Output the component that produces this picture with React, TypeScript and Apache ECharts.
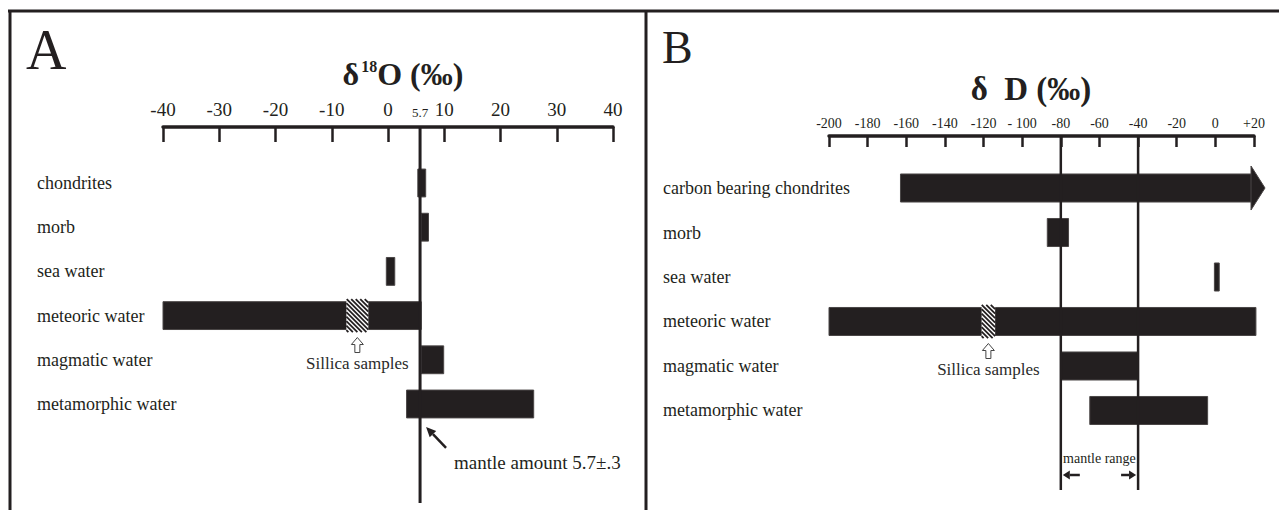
import React, { useEffect, useRef } from 'react';
import * as echarts from 'echarts';

// ---------- data ----------
const o18Categories = ['chondrites', 'morb', 'sea water', 'meteoric water', 'magmatic water', 'metamorphic water'];
const o18Low = [5.3, 5.9, -0.3, -40, 5.9, 3.3];
const o18High = [6.7, 7.2, 1.2, 5.9, 9.9, 25.9];
const o18TickValues = [-40, -30, -20, -10, 0, 10, 20, 30, 40];
const o18LabelValues = [-40, -30, -20, -10, 0, 5.7, 10, 20, 30, 40];
const o18Mantle = 5.7;
const o18MantleSpread = '.3';
const o18SilicaRow = 3;
const o18Silica = [-7.4, -3.5];

const dDCategories = ['carbon bearing chondrites', 'morb', 'sea water', 'meteoric water', 'magmatic water', 'metamorphic water'];
const dDLow = [-163, -87, -0.5, -200, -80, -65];
const dDHigh = [20, -76, 2, 21, -40, -4];
const dDOpenEnded = [true, false, false, false, false, false];
const dDTickValues = [-200, -180, -160, -140, -120, -100, -80, -60, -40, -20, 0, 20];
const dDTickLabels = ['-200', '-180', '-160', '-140', '-120', '- 100', '-80', '-60', '-40', '-20', '0', '+20'];
const dDMantleRange = [-80, -40];
const dDSilicaRow = 3;
const dDSilica = [-121, -114];

// ---------- style ----------
const SERIF = '"Liberation Serif", "Times New Roman", serif';
const INK = '#231f20';
const BAR_ROWS = 0.63;
const SILICA_ROWS = 0.5;

function rangeBars(xAxisIndex: number, yAxisIndex: number, lows: number[], highs: number[], open?: boolean[]) {
  return {
    type: 'custom',
    xAxisIndex,
    yAxisIndex,
    clip: false,
    silent: true,
    z: 2,
    encode: { x: [0, 1], y: 2 },
    data: lows.map((lo, i) => [lo, highs[i], i, open && open[i] ? 1 : 0]),
    renderItem: (params: any, api: any) => {
      const row = api.value(2);
      const a = api.coord([api.value(0), row]);
      const b = api.coord([api.value(1), row]);
      const h = api.size([0, BAR_ROWS])[1];
      const style = { fill: INK, stroke: '#4a4646', lineWidth: 1 };
      const rect = {
        type: 'rect',
        shape: { x: a[0], y: a[1] - h / 2, width: Math.max(b[0] - a[0], 2), height: h },
        style,
      };
      if (!api.value(3)) return rect;
      return {
        type: 'group',
        children: [
          rect,
          {
            type: 'polygon',
            shape: { points: [[b[0] - 3, a[1] - h / 2 - 8], [b[0] + 11, a[1]], [b[0] - 3, a[1] + h / 2 + 8]] },
            style,
          },
        ],
      };
    },
  };
}

function silicaSeries(xAxisIndex: number, yAxisIndex: number, range: number[], row: number) {
  return {
    type: 'custom',
    xAxisIndex,
    yAxisIndex,
    clip: false,
    silent: true,
    z: 3,
    encode: { x: [0, 1], y: 2 },
    data: [[range[0], range[1], row]],
    renderItem: (params: any, api: any) => {
      const r = api.value(2);
      const a = api.coord([api.value(0), r]);
      const b = api.coord([api.value(1), r]);
      const h = api.size([0, SILICA_ROWS * 1.5])[1];
      const bh = api.size([0, BAR_ROWS])[1];
      const x0 = a[0], x1 = b[0], y0 = a[1] - h / 2, y1 = a[1] + h / 2;
      const children: any[] = [
        { type: 'rect', shape: { x: x0, y: y0, width: x1 - x0, height: h }, style: { fill: '#ffffff' } },
      ];
      for (let c = x0 - y1 + 2; c < x1 - y0; c += 4.5) {
        const sx = Math.max(x0, y0 + c);
        const ex = Math.min(x1, y1 + c);
        if (ex > sx) {
          children.push({
            type: 'line',
            shape: { x1: sx, y1: sx - c, x2: ex, y2: ex - c },
            style: { stroke: INK, lineWidth: 1.8 },
          });
        }
      }
      const cx = (x0 + x1) / 2;
      const by = a[1] + bh / 2;
      children.push({
        type: 'polygon',
        shape: {
          points: [
            [cx, by + 8], [cx + 6, by + 15], [cx + 2.5, by + 15], [cx + 2.5, by + 23],
            [cx - 2.5, by + 23], [cx - 2.5, by + 15], [cx - 6, by + 15],
          ],
        },
        style: { fill: '#ffffff', stroke: '#444', lineWidth: 1 },
      });
      children.push({
        type: 'text',
        style: {
          text: 'Sillica samples', x: cx, y: by + 34, align: 'center', verticalAlign: 'middle',
          fontSize: 17, fontFamily: SERIF, fill: '#2a2a2a',
        },
      });
      return { type: 'group', children };
    },
  };
}

function arrowHead(tip: number[], tail: number[], len: number, half: number) {
  const dx = tip[0] - tail[0], dy = tip[1] - tail[1];
  const L = Math.hypot(dx, dy);
  const ux = dx / L, uy = dy / L;
  const bx = tip[0] - ux * len, by = tip[1] - uy * len;
  const px = -uy, py = ux;
  return {
    base: [bx, by],
    poly: {
      type: 'polygon',
      shape: { points: [tip, [bx + px * half, by + py * half], [bx - px * half, by - py * half]] },
      style: { fill: INK },
    },
  };
}

const o18MantleSeries = {
  type: 'custom',
  xAxisIndex: 0,
  yAxisIndex: 0,
  clip: false,
  silent: true,
  z: 4,
  encode: { x: 0 },
  data: [[o18Mantle]],
  renderItem: (params: any, api: any) => {
    const cs = params.coordSys;
    const x = api.coord([api.value(0), 0])[0];
    const yb = api.coord([0, o18Categories.length - 1])[1] + api.size([0, BAR_ROWS])[1] / 2;
    const tip = [x + 6, yb + 9];
    const tail = [x + 26, yb + 30];
    const head = arrowHead(tip, tail, 10, 4.5);
    return {
      type: 'group',
      children: [
        { type: 'line', shape: { x1: x, y1: cs.y, x2: x, y2: cs.y + cs.height }, style: { stroke: INK, lineWidth: 3 } },
        { type: 'line', shape: { x1: tail[0], y1: tail[1], x2: head.base[0], y2: head.base[1] }, style: { stroke: INK, lineWidth: 2.5 } },
        head.poly,
        {
          type: 'text',
          style: {
            text: `mantle amount ${o18Mantle}±${o18MantleSpread}`, x: x + 34, y: yb + 45,
            align: 'left', verticalAlign: 'middle', fontSize: 19, fontFamily: SERIF, fill: INK,
          },
        },
      ],
    };
  },
};

const dDMantleSeries = {
  type: 'custom',
  xAxisIndex: 1,
  yAxisIndex: 1,
  clip: false,
  silent: true,
  z: 4,
  encode: { x: [0, 1] },
  data: [[dDMantleRange[0], dDMantleRange[1]]],
  renderItem: (params: any, api: any) => {
    const cs = params.coordSys;
    const xl = api.coord([api.value(0), 0])[0];
    const xr = api.coord([api.value(1), 0])[0];
    const bottom = cs.y + cs.height;
    const ay = bottom - 15;
    const hl = arrowHead([xl + 2, ay], [xl + 19, ay], 7, 4.5);
    const hr = arrowHead([xr - 2, ay], [xr - 17, ay], 7, 4.5);
    return {
      type: 'group',
      children: [
        { type: 'line', shape: { x1: xl, y1: cs.y, x2: xl, y2: bottom }, style: { stroke: INK, lineWidth: 2.5 } },
        { type: 'line', shape: { x1: xr, y1: cs.y, x2: xr, y2: bottom }, style: { stroke: INK, lineWidth: 2.5 } },
        { type: 'line', shape: { x1: xl + 19, y1: ay, x2: hl.base[0], y2: ay }, style: { stroke: INK, lineWidth: 2.5 } },
        hl.poly,
        { type: 'line', shape: { x1: xr - 17, y1: ay, x2: hr.base[0], y2: ay }, style: { stroke: INK, lineWidth: 2.5 } },
        hr.poly,
        {
          type: 'text',
          style: {
            text: 'mantle range', x: (xl + xr) / 2, y: bottom - 32, align: 'center', verticalAlign: 'middle',
            fontSize: 14, fontFamily: SERIF, fill: INK,
          },
        },
      ],
    };
  },
};

export default function App() {
  const ref = useRef<HTMLDivElement>(null);
  useEffect(() => {
    if (!ref.current) return;
    const chart = echarts.init(ref.current, null, { renderer: 'svg' });
    const catLabel = (names: string[], margin: number) => ({
      customValues: names.map((_, i) => i),
      formatter: (v: number) => names[Math.round(v)] ?? '',
      align: 'left',
      margin,
      fontSize: 18,
      fontFamily: SERIF,
      color: INK,
    });
    const option: any = {
      animation: false,
      backgroundColor: '#ffffff',
      textStyle: { fontFamily: SERIF },
      grid: [
        { left: 163, top: 127, width: 450, height: 376, outerBoundsMode: 'none' },
        { left: 829, top: 136, width: 425, height: 354, outerBoundsMode: 'none' },
      ],
      xAxis: [
        {
          gridIndex: 0, type: 'value', position: 'top', min: -40, max: 40, interval: 10,
          axisLine: { show: true, onZero: false, lineStyle: { color: INK, width: 3.5 } },
          axisTick: { show: true, inside: true, length: 15, customValues: o18TickValues, lineStyle: { color: INK, width: 2.5 } },
          axisLabel: {
            customValues: o18LabelValues, margin: 8, color: INK, fontFamily: SERIF, fontSize: 19,
            formatter: (v: number) => (v === o18Mantle ? `{s|${v}}` : String(v)),
            rich: { s: { fontSize: 13, fontFamily: SERIF, color: INK } },
          },
          splitLine: { show: false },
        },
        {
          gridIndex: 1, type: 'value', position: 'top', min: -200, max: 20, interval: 20,
          axisLine: { show: true, onZero: false, lineStyle: { color: INK, width: 3.5 } },
          axisTick: { show: true, inside: true, length: 11, customValues: dDTickValues, lineStyle: { color: INK, width: 2.5 } },
          axisLabel: {
            customValues: dDTickValues, margin: 6, color: INK, fontFamily: SERIF, fontSize: 14,
            formatter: (v: number) => dDTickLabels[dDTickValues.indexOf(v)] ?? String(v),
          },
          splitLine: { show: false },
        },
      ],
      yAxis: [
        {
          gridIndex: 0, type: 'value', inverse: true, min: -1.267, max: 7.24,
          axisLine: { show: false, onZero: false }, axisTick: { show: false }, splitLine: { show: false },
          axisLabel: catLabel(o18Categories, 126),
        },
        {
          gridIndex: 1, type: 'value', inverse: true, min: -1.169, max: 6.787,
          axisLine: { show: false, onZero: false }, axisTick: { show: false }, splitLine: { show: false },
          axisLabel: catLabel(dDCategories, 166),
        },
      ],
      series: [
        rangeBars(0, 0, o18Low, o18High),
        silicaSeries(0, 0, o18Silica, o18SilicaRow),
        o18MantleSeries,
        rangeBars(1, 1, dDLow, dDHigh, dDOpenEnded),
        silicaSeries(1, 1, dDSilica, dDSilicaRow),
        dDMantleSeries,
      ],
      graphic: [
        { type: 'line', shape: { x1: 8, y1: 11, x2: 1279, y2: 11 }, style: { stroke: INK, lineWidth: 3 } },
        { type: 'line', shape: { x1: 10, y1: 10, x2: 10, y2: 510 }, style: { stroke: INK, lineWidth: 3 } },
        { type: 'line', shape: { x1: 646, y1: 10, x2: 646, y2: 510 }, style: { stroke: INK, lineWidth: 3 } },
        {
          type: 'text', x: 26, y: 50,
          style: { text: 'A', x: 0, y: 0, align: 'left', verticalAlign: 'middle', fontSize: 56, fontFamily: SERIF, fill: INK },
        },
        {
          type: 'text', x: 662, y: 47,
          style: { text: 'B', x: 0, y: 0, align: 'left', verticalAlign: 'middle', fontSize: 46, fontFamily: SERIF, fill: INK },
        },
        {
          type: 'text', x: 403, y: 74,
          style: {
            text: '{d|δ}{sup|18}{o|O (‰)}', x: 0, y: 0, align: 'center', verticalAlign: 'middle',
            rich: {
              d: { fontSize: 32, fontWeight: 'bold', fontFamily: SERIF, fill: INK, lineHeight: 36 },
              sup: { fontSize: 16, fontWeight: 'bold', fontFamily: SERIF, fill: INK, verticalAlign: 'top', lineHeight: 36, padding: [2, 0, 0, 2] },
              o: { fontSize: 32, fontWeight: 'bold', fontFamily: SERIF, fill: INK, lineHeight: 36 },
            },
          },
        },
        {
          type: 'text', x: 1031, y: 89,
          style: {
            text: 'δ  D (‰)', x: 0, y: 0, align: 'center', verticalAlign: 'middle',
            fontSize: 33, fontWeight: 'bold', fontFamily: SERIF, fill: INK,
          },
        },
      ],
    };
    chart.setOption(option);
    return () => chart.dispose();
  }, []);
  return (
    <div
      ref={ref}
      style={{ position: 'absolute', left: 0, top: 0, width: 1279, height: 510, background: '#fff' }}
    />
  );
}
